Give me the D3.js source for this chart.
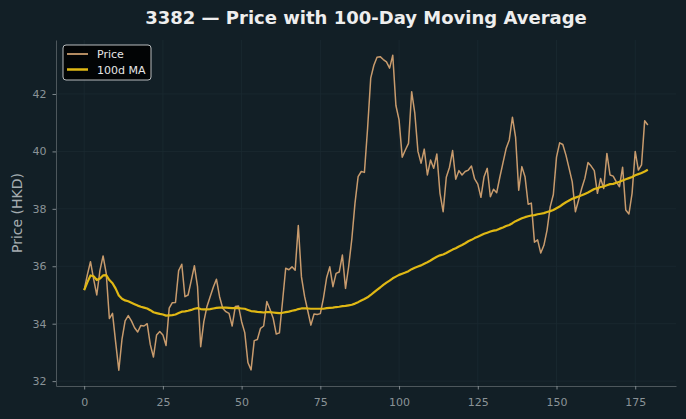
<!DOCTYPE html>
<html>
<head>
<meta charset="utf-8">
<script src="https://cdn.jsdelivr.net/npm/d3@7"></script>
<style>
html,body{margin:0;padding:0;background:#121f26;}
svg{display:block;}
text{font-family:"DejaVu Sans",sans-serif;}
</style>
</head>
<body>
<svg id="chart" width="686" height="419"></svg>
<script>
const title = "3382 — Price with 100-Day Moving Average";
const yLabel = "Price (HKD)";
const seriesNames = ["Price", "100d MA"];
const xTicks = [0, 25, 50, 75, 100, 125, 150, 175];
const yTicks = [32, 34, 36, 38, 40, 42];

const price = [
35.17,35.7,36.16,35.55,35.0,35.85,36.36,35.75,34.18,34.36,
33.35,32.38,33.45,34.1,34.28,34.1,33.86,33.71,33.94,33.92,
34.0,33.27,32.84,33.61,33.73,33.61,33.24,34.54,34.73,34.74,
35.85,36.07,34.94,35.0,35.5,36.02,35.29,33.2,34.07,34.6,
34.94,35.27,35.55,34.94,34.54,34.42,34.36,33.92,34.6,34.62,
34.07,33.69,32.65,32.39,33.41,33.45,33.84,33.92,34.77,34.5,
34.2,33.64,33.68,34.78,35.93,35.88,35.98,35.86,37.42,35.63,
34.95,34.45,33.95,34.34,34.32,34.35,34.9,35.6,35.98,35.29,
35.75,35.8,36.39,35.23,36.0,36.95,38.19,39.12,39.3,39.27,
40.8,42.55,43.0,43.28,43.3,43.2,43.12,42.9,43.35,41.6,
41.1,39.8,40.05,40.28,42.08,41.33,40.0,39.59,40.08,39.18,
39.7,39.41,39.91,38.54,37.9,39.1,39.44,40.03,39.03,39.33,
39.18,39.3,39.35,39.49,39.04,38.86,38.4,39.12,39.41,38.42,
38.68,38.56,39.1,39.6,40.1,40.4,41.19,40.5,38.65,39.47,
39.12,38.16,38.2,36.84,36.92,36.46,36.73,37.26,38.07,38.5,
39.8,40.3,40.24,39.87,39.41,38.94,37.9,38.3,38.71,39.06,
39.61,39.49,39.33,38.54,39.06,38.71,39.93,39.18,39.14,38.94,
38.77,39.45,37.96,37.82,38.54,40.0,39.35,39.53,41.07,40.92
];

const ma = [
35.17,35.44,35.68,35.65,35.52,35.57,35.68,35.69,35.52,35.41,
35.22,34.98,34.87,34.81,34.78,34.73,34.68,34.63,34.59,34.56,
34.53,34.47,34.40,34.37,34.34,34.32,34.28,34.29,34.30,34.32,
34.37,34.42,34.43,34.45,34.48,34.52,34.54,34.51,34.50,34.50,
34.51,34.53,34.55,34.56,34.56,34.56,34.55,34.54,34.54,34.54,
34.53,34.52,34.48,34.44,34.43,34.41,34.40,34.39,34.40,34.40,
34.39,34.38,34.37,34.38,34.40,34.42,34.45,34.47,34.51,34.53,
34.53,34.53,34.52,34.52,34.52,34.52,34.52,34.54,34.55,34.56,
34.58,34.59,34.61,34.62,34.64,34.66,34.70,34.75,34.81,34.86,
34.92,35.00,35.09,35.18,35.26,35.35,35.43,35.50,35.58,35.64,
35.70,35.74,35.78,35.83,35.90,35.95,35.99,36.03,36.09,36.14,
36.20,36.27,36.33,36.38,36.41,36.46,36.52,36.58,36.63,36.69,
36.74,36.80,36.87,36.92,36.98,37.03,37.08,37.13,37.17,37.21,
37.24,37.26,37.31,37.35,37.40,37.44,37.50,37.57,37.62,37.67,
37.71,37.74,37.77,37.78,37.81,37.83,37.85,37.89,37.92,37.96,
38.02,38.08,38.16,38.23,38.29,38.35,38.39,38.43,38.47,38.52,
38.57,38.63,38.69,38.72,38.76,38.78,38.82,38.86,38.87,38.91,
38.94,38.99,39.03,39.07,39.11,39.17,39.21,39.25,39.30,39.36
];

const W = 686, H = 419;
const m = {left: 56, right: 10, top: 40, bottom: 33};
const svg = d3.select("#chart");
svg.append("rect").attr("width", W).attr("height", H).attr("fill", "#121f26");

const n = price.length;
const xPad = (n - 1) * 0.05;
const x = d3.scaleLinear().domain([-xPad, n - 1 + xPad]).range([m.left, W - m.right]);
const y = d3.scaleLinear().domain([31.83, 43.88]).range([H - m.bottom, m.top]);

const g = svg.append("g");

// grid
g.append("g").selectAll("line").data(xTicks).join("line")
  .attr("x1", d => x(d)).attr("x2", d => x(d))
  .attr("y1", m.top).attr("y2", H - m.bottom)
  .attr("stroke", "#1b2a31").attr("stroke-width", 0.8);
g.append("g").selectAll("line").data(yTicks).join("line")
  .attr("x1", m.left).attr("x2", W - m.right)
  .attr("y1", d => y(d)).attr("y2", d => y(d))
  .attr("stroke", "#1b2a31").attr("stroke-width", 0.8);

// axes
const xAxis = g.append("g").attr("transform", `translate(0,${H - m.bottom})`)
  .call(d3.axisBottom(x).tickValues(xTicks).tickFormat(d3.format("d")).tickSize(3.5).tickPadding(9).tickSizeOuter(0));
const yAxis = g.append("g").attr("transform", `translate(${m.left},0)`)
  .call(d3.axisLeft(y).tickValues(yTicks).tickFormat(d3.format("d")).tickSize(3.5).tickPadding(6).tickSizeOuter(0));
[xAxis, yAxis].forEach(a => {
  a.select(".domain").attr("stroke", "#4d575c").attr("stroke-width", 1);
  a.selectAll(".tick line").attr("stroke", "#8a9397").attr("stroke-width", 0.9);
  a.selectAll(".tick text").attr("fill", "#8a9397").attr("font-size", 11).attr("font-family", "DejaVu Sans");
});

// lines
const line = d3.line().x((d, i) => x(i)).y(d => y(d));
g.append("path").datum(price).attr("d", line)
  .attr("fill", "none").attr("stroke", "#c89b6d").attr("stroke-width", 1.5).attr("stroke-linejoin", "round");
g.append("path").datum(ma).attr("d", line)
  .attr("fill", "none").attr("stroke", "#e0b814").attr("stroke-width", 2.2).attr("stroke-linejoin", "round");

// title
svg.append("text").attr("x", (m.left + W - m.right) / 2).attr("y", 24)
  .attr("text-anchor", "middle").attr("fill", "#eeeeee")
  .attr("font-size", 18).attr("font-weight", "bold").text(title);

// y label
svg.append("text").attr("transform", `translate(22,${(m.top + H - m.bottom) / 2}) rotate(-90)`)
  .attr("text-anchor", "middle").attr("fill", "#a5adb1").attr("font-size", 14).text(yLabel);

// legend
const lg = svg.append("g").attr("transform", "translate(63,45)");
lg.append("rect").attr("width", 88).attr("height", 35).attr("rx", 3)
  .attr("fill", "#000000").attr("fill-opacity", 0.85)
  .attr("stroke", "#b8bcbe").attr("stroke-width", 1);
const colors = ["#c89b6d", "#e0b814"];
const widths = [1.5, 2.2];
seriesNames.forEach((s, i) => {
  const yy = 9 + i * 15.5;
  lg.append("line").attr("x1", 4).attr("x2", 25).attr("y1", yy).attr("y2", yy)
    .attr("stroke", colors[i]).attr("stroke-width", widths[i] + 0.3);
  lg.append("text").attr("x", 34).attr("y", yy + 4).attr("fill", "#e6e6e6")
    .attr("font-size", 11).text(s);
});
</script>
</body>
</html>
